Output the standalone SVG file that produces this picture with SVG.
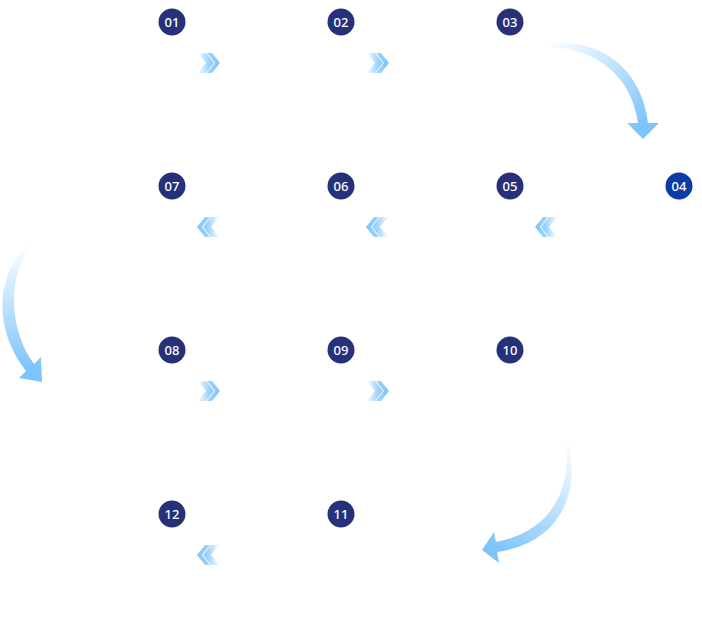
<svg xmlns="http://www.w3.org/2000/svg" xmlns:xlink="http://www.w3.org/1999/xlink" width="702" height="619" viewBox="0 0 702 619">
<style>
.dot{fill:#27317a}
.dot.hl{fill:#0c3aa7}
.num{fill:#ffffff;font-family:"Noto Sans","Liberation Sans",sans-serif;font-size:13px;font-weight:500;text-anchor:middle;dominant-baseline:central}
</style>
<defs>
<linearGradient id="chevGrad" x1="0" y1="0" x2="1" y2="0">
<stop offset="0" stop-color="#7cc4fb" stop-opacity="0.05"/>
<stop offset="0.5" stop-color="#7cc4fb" stop-opacity="0.75"/>
<stop offset="1" stop-color="#7cc4fb" stop-opacity="1"/>
</linearGradient>
<path id="chev" fill="url(#chevGrad)" d="M-11,-10 L-3,-10 L5,0 L-3,10 L-11,10 L-3,0 Z M-2,-10 L3,-10 L11,0 L3,10 L-2,10 L6,0 Z"/>
<linearGradient id="g34" gradientUnits="userSpaceOnUse" x1="545" y1="44" x2="640" y2="128">
<stop offset="0" stop-color="#7cc4fb" stop-opacity="0"/>
<stop offset="0.5" stop-color="#7cc4fb" stop-opacity="0.45"/>
<stop offset="1" stop-color="#7cc4fb" stop-opacity="1"/>
</linearGradient>
<linearGradient id="g78" gradientUnits="userSpaceOnUse" x1="30" y1="243" x2="30" y2="370">
<stop offset="0" stop-color="#7cc4fb" stop-opacity="0"/>
<stop offset="0.5" stop-color="#7cc4fb" stop-opacity="0.5"/>
<stop offset="1" stop-color="#7cc4fb" stop-opacity="1"/>
</linearGradient>
<linearGradient id="g1011" gradientUnits="userSpaceOnUse" x1="567" y1="436" x2="495" y2="550">
<stop offset="0" stop-color="#7cc4fb" stop-opacity="0"/>
<stop offset="0.5" stop-color="#7cc4fb" stop-opacity="0.5"/>
<stop offset="1" stop-color="#7cc4fb" stop-opacity="1"/>
</linearGradient>
</defs>
<g id="connectors">
<use href="#chev" transform="translate(209,63)"/>
<use href="#chev" transform="translate(378,63)"/>
<use href="#chev" transform="translate(208,227) scale(-1,1)"/>
<use href="#chev" transform="translate(377,227) scale(-1,1)"/>
<use href="#chev" transform="translate(546,227) scale(-1,1)"/>
<use href="#chev" transform="translate(209,391)"/>
<use href="#chev" transform="translate(378,391)"/>
<use href="#chev" transform="translate(208,555) scale(-1,1)"/>
<path id="arrow-03-04" fill="url(#g34)" d="M542,45 C600,34 642,70 648,123 L659,123 L643,139 L627,123 L638,123 C632,78 598,46 542,47 Z"/>
<path id="arrow-07-08" fill="url(#g78)" d="M36,241 C2,258 -14,320 26,371 L19,378 L42,382 L41,357 L34,364 C8,330 6,268 36,242 Z"/>
<path id="arrow-10-11" fill="url(#g1011)" d="M567,436 C581,485 566,542 497,552 L499,563 L482,550 L494,532 L496,542 C556,530 572,485 566,436 Z"/>
</g>
<g id="n01"><circle class="dot" cx="172" cy="22" r="13.5"/><text class="num" x="172" y="22">01</text></g>
<g id="n02"><circle class="dot" cx="341" cy="22" r="13.5"/><text class="num" x="341" y="22">02</text></g>
<g id="n03"><circle class="dot" cx="510" cy="22" r="13.5"/><text class="num" x="510" y="22">03</text></g>
<g id="n04"><circle class="dot hl" cx="679" cy="186" r="13.5"/><text class="num" x="679" y="186">04</text></g>
<g id="n05"><circle class="dot" cx="510" cy="186" r="13.5"/><text class="num" x="510" y="186">05</text></g>
<g id="n06"><circle class="dot" cx="341" cy="186" r="13.5"/><text class="num" x="341" y="186">06</text></g>
<g id="n07"><circle class="dot" cx="172" cy="186" r="13.5"/><text class="num" x="172" y="186">07</text></g>
<g id="n08"><circle class="dot" cx="172" cy="350" r="13.5"/><text class="num" x="172" y="350">08</text></g>
<g id="n09"><circle class="dot" cx="341" cy="350" r="13.5"/><text class="num" x="341" y="350">09</text></g>
<g id="n10"><circle class="dot" cx="510" cy="350" r="13.5"/><text class="num" x="510" y="350">10</text></g>
<g id="n11"><circle class="dot" cx="341" cy="514" r="13.5"/><text class="num" x="341" y="514">11</text></g>
<g id="n12"><circle class="dot" cx="172" cy="514" r="13.5"/><text class="num" x="172" y="514">12</text></g>
</svg>
